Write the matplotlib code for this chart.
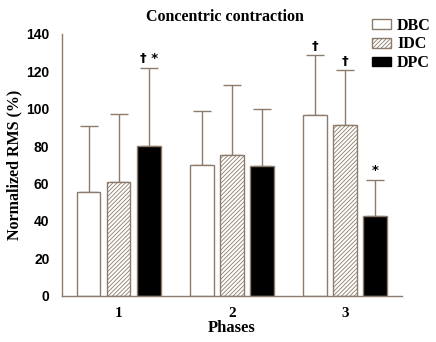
import matplotlib
matplotlib.use("Agg")
import matplotlib.pyplot as plt
import numpy as np

# mean normalized RMS and upward SD for each phase
phases = ["1", "2", "3"]
groups = ["DBC", "IDC", "DPC"]
means = {
    "DBC": [55.5, 70.0, 96.5],
    "IDC": [61.0, 75.0, 91.5],
    "DPC": [80.0, 69.5, 42.5],
}
sds = {
    "DBC": [35.5, 29.0, 32.0],
    "IDC": [36.0, 37.5, 29.0],
    "DPC": [42.0, 30.5, 19.5],
}
marks = {
    ("DPC", 0): "\u2020 *",
    ("DBC", 2): "\u2020",
    ("IDC", 2): "\u2020",
    ("DPC", 2): "*",
}
yticks = [0, 20, 40, 60, 80, 100, 120, 140]

brown = "#8c7b6b"
styles = {
    "DBC": dict(color="white", edgecolor=brown, hatch=None),
    "IDC": dict(color="white", edgecolor=brown, hatch="////////"),
    "DPC": dict(color="black", edgecolor=brown, hatch=None),
}
serif = "Liberation Serif"
sans = "Liberation Sans"

plt.rcParams["hatch.linewidth"] = 0.6

fig = plt.figure(figsize=(4.36, 3.42), dpi=100)
ax = fig.add_axes([0.142, 0.135, 0.78, 0.766])

x = np.arange(1, len(phases) + 1)
width = 0.21
step = 0.265

for k, g in enumerate(groups):
    pos = x + (k - 1) * step
    st = styles[g]
    ax.bar(pos, means[g], width, color=st["color"], edgecolor=st["edgecolor"],
           hatch=st["hatch"], linewidth=1.0, zorder=2)
    ax.errorbar(pos, means[g], yerr=[np.zeros(len(pos)), sds[g]], fmt="none",
                ecolor=brown, elinewidth=1.0, capsize=6.2, capthick=1.0, zorder=1)
    for i in range(len(pos)):
        if (g, i) in marks:
            ax.annotate(marks[(g, i)], (pos[i], means[g][i] + sds[g][i]),
                        xytext=(0, 2), textcoords="offset points",
                        ha="center", va="bottom", fontsize=9.5,
                        fontfamily="DejaVu Sans", fontweight="bold")

ax.set_xlim(0.5, 3.5)
ax.set_ylim(0, 140)
ax.set_xticks(x)
ax.set_xticklabels(phases, fontfamily=serif, fontweight="bold", fontsize=11)
ax.set_yticks(yticks)
ax.set_yticklabels([str(t) for t in yticks], fontfamily=sans, fontweight="bold", fontsize=10)
ax.tick_params(length=0, pad=9)
ax.tick_params(axis="x", pad=8)
for s in ["top", "right"]:
    ax.spines[s].set_visible(False)
for s in ["left", "bottom"]:
    ax.spines[s].set_color(brown)
    ax.spines[s].set_linewidth(1.0)

ax.set_xlabel("Phases", fontfamily=serif, fontweight="bold", fontsize=12, labelpad=0)
ax.set_ylabel("Normalized RMS (%)", fontfamily=serif, fontweight="bold", fontsize=11.5, labelpad=3)
fig.text(0.516, 0.95, "Concentric contraction", ha="center", va="center",
         fontfamily=serif, fontweight="bold", fontsize=11.5)

handles = [plt.Rectangle((0, 0), 1, 1, facecolor=styles[g]["color"],
                         edgecolor=brown if g != "DPC" else "black",
                         hatch=styles[g]["hatch"], linewidth=1.0) for g in groups]
fig.legend(handles, groups, loc="upper left", bbox_to_anchor=(0.853, 0.948),
           frameon=False, prop=dict(family=serif, weight="bold", size=11.5),
           handlelength=1.2, handleheight=0.55, handletextpad=0.37, labelspacing=0.17,
           borderpad=0, borderaxespad=0)

fig.savefig("out.png", dpi=100)
